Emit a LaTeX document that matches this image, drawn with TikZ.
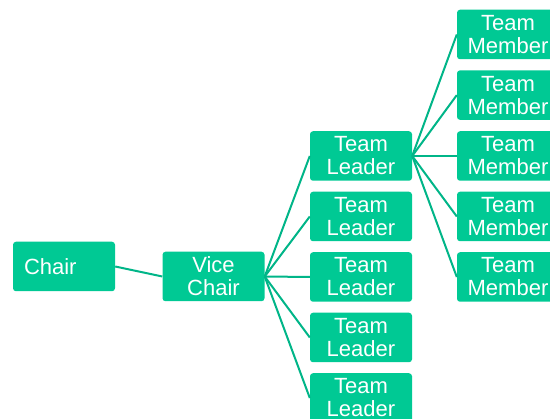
\documentclass[tikz,border=0pt]{standalone}
\usepackage{fontspec}
\setmainfont{Liberation Sans}
\definecolor{boxgreen}{HTML}{00C994}
\definecolor{linegreen}{HTML}{00B588}
\begin{document}
\begin{tikzpicture}[x=1pt,y=-1pt,
  orgbox/.style={fill=boxgreen, rounded corners=3pt, minimum width=102pt, minimum height=49.5pt,
    inner sep=0pt, text=white, align=center, font=\fontsize{22}{23}\selectfont},
  link/.style={draw=linegreen, line width=2pt}]
\useasboundingbox (0,0) rectangle (550,419);
\node[orgbox, text width=80pt, align=left] (chair) at (64,266.5) {Chair};
\node[orgbox] (vc) at (213.5,276.5) {Vice\\Chair};
\foreach \i/\y in {1/156,2/216.5,3/277,4/337.5,5/398}{
  \node[orgbox] (tl\i) at (361,\y) {Team\\Leader};
}
\foreach \i/\y in {1/34.5,2/95.1,3/156,4/216.5,5/277}{
  \node[orgbox] (tm\i) at (508,\y) {Team\\Member};
}
\draw[link] (chair.east) -- (vc.west);
\foreach \i in {1,...,5}{
  \draw[link] (vc.east) -- (tl\i.west);
  \draw[link] (tl1.east) -- (tm\i.west);
}
\end{tikzpicture}
\end{document}
